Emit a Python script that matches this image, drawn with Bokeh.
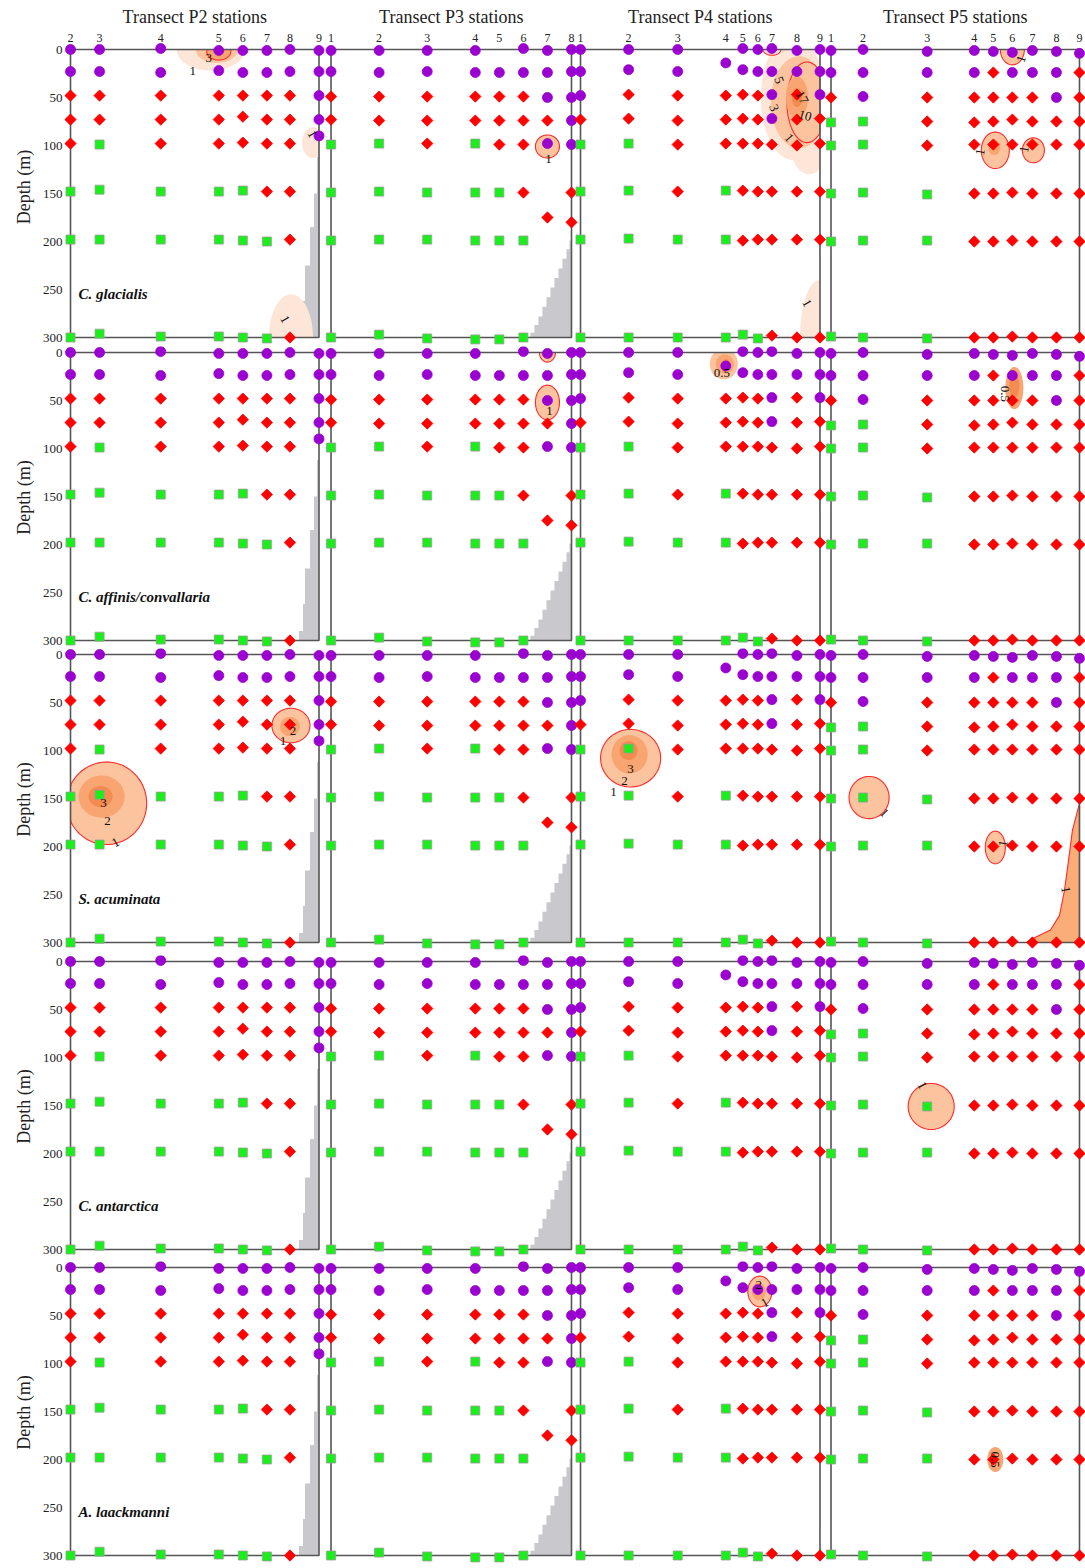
import numpy as np
from bokeh.plotting import figure
from bokeh.layouts import column
from bokeh.models import Range1d, FixedTicker, LinearAxis
from bokeh.core.properties import value
from bokeh.embed import file_html
from bokeh.resources import INLINE

# ---------------- data ----------------
species = ["C. glacialis", "C. affinis/convallaria", "S. acuminata", "C. antarctica", "A. laackmanni"]
transects = ["P2", "P3", "P4", "P5"]

# station names and relative positions along each transect
p2_names = ["2", "3", "4", "5", "6", "7", "8", "9"]
p2_dist = [0, 29, 90, 148, 172, 196, 219, 248]
p3_names = ["1", "2", "3", "4", "5", "6", "7", "8"]
p3_dist = [0, 48, 96, 144, 168, 192, 216, 240]
p4_names = ["1", "2", "3", "4", "5", "6", "7", "8", "9"]
p4_dist = [0, 48, 97, 145, 162, 177, 191, 216, 239]
p5_names = ["1", "2", "3", "4", "5", "6", "7", "8", "9"]
p5_dist = [0, 32, 96, 143, 162, 181, 201, 225, 248]

# samples: (depth m, water type)  S = surface (purple), I = intermediate (red), D = deep (green)
p2_samples = {
    "2": [(0, "S"), (23, "S"), (48, "I"), (73, "I"), (98, "I"), (148, "D"), (198, "D"), (300, "D")],
    "3": [(0, "S"), (23, "S"), (48, "I"), (73, "I"), (99, "D"), (146, "D"), (198, "D"), (296, "D")],
    "4": [(-1, "S"), (24, "S"), (48, "I"), (73, "I"), (98, "I"), (148, "D"), (198, "D"), (299, "D")],
    "5": [(1, "S"), (22, "S"), (48, "I"), (73, "I"), (98, "I"), (148, "D"), (198, "D"), (299, "D")],
    "6": [(1, "S"), (24, "S"), (48, "I"), (70, "I"), (97, "I"), (147, "D"), (199, "D"), (300, "D")],
    "7": [(1, "S"), (24, "S"), (48, "I"), (73, "I"), (98, "I"), (148, "I"), (200, "D"), (301, "D")],
    "8": [(0, "S"), (23, "S"), (48, "I"), (73, "I"), (98, "I"), (148, "I"), (198, "I"), (300, "I")],
    "9": [(1, "S"), (23, "S"), (48, "S"), (73, "S"), (90, "S")],
}
p3_samples = {
    "1": [(1, "S"), (23, "S"), (49, "I"), (73, "I"), (99, "D"), (149, "D"), (199, "D"), (300, "D")],
    "2": [(1, "S"), (24, "S"), (49, "I"), (74, "I"), (98, "D"), (148, "D"), (198, "D"), (297, "D")],
    "3": [(1, "S"), (23, "S"), (49, "I"), (74, "I"), (98, "I"), (149, "D"), (198, "D"), (301, "D")],
    "4": [(1, "S"), (24, "S"), (49, "I"), (74, "I"), (98, "D"), (149, "D"), (199, "D"), (302, "D")],
    "5": [(24, "S"), (49, "I"), (74, "I"), (99, "I"), (149, "D"), (199, "D"), (302, "D")],
    "6": [(-1, "S"), (24, "S"), (49, "I"), (74, "I"), (99, "I"), (149, "I"), (199, "D"), (300, "D")],
    "7": [(1, "S"), (24, "S"), (50, "S"), (74, "I"), (98, "S"), (175, "I")],
    "8": [(0, "S"), (23, "S"), (50, "S"), (74, "S"), (99, "S"), (149, "I"), (180, "I")],
}
p4_samples = {
    "1": [(0, "S"), (23, "S"), (48, "S"), (73, "I"), (99, "D"), (148, "D"), (198, "D"), (300, "D")],
    "2": [(0, "S"), (21, "S"), (47, "I"), (72, "I"), (98, "D"), (147, "D"), (197, "D"), (300, "D")],
    "3": [(0, "S"), (23, "S"), (48, "I"), (74, "I"), (99, "I"), (148, "I"), (198, "D"), (300, "D")],
    "4": [(14, "S"), (48, "I"), (73, "I"), (98, "I"), (147, "D"), (198, "D"), (300, "D")],
    "5": [(-1, "S"), (21, "S"), (47, "I"), (72, "I"), (98, "I"), (147, "I"), (199, "I"), (297, "D")],
    "6": [(0, "S"), (23, "S"), (48, "I"), (73, "I"), (98, "I"), (148, "I"), (198, "I"), (301, "D")],
    "7": [(-1, "S"), (23, "S"), (47, "S"), (72, "S"), (99, "I"), (148, "I"), (198, "I"), (298, "I")],
    "8": [(1, "S"), (23, "S"), (47, "I"), (73, "I"), (100, "I"), (148, "I"), (198, "I"), (300, "I")],
    "9": [(0, "S"), (23, "S"), (47, "S"), (72, "I"), (98, "I"), (148, "I"), (198, "I"), (300, "I")],
}
p5_samples = {
    "1": [(1, "S"), (24, "S"), (50, "I"), (76, "D"), (100, "D"), (150, "D"), (200, "D"), (299, "D")],
    "2": [(0, "S"), (24, "S"), (49, "S"), (75, "D"), (99, "D"), (149, "D"), (199, "D"), (300, "D")],
    "3": [(2, "S"), (24, "S"), (50, "I"), (75, "I"), (100, "I"), (151, "D"), (199, "D"), (301, "D")],
    "4": [(1, "S"), (24, "S"), (50, "I"), (76, "I"), (99, "I"), (150, "I"), (200, "I"), (300, "I")],
    "5": [(2, "S"), (24, "I"), (50, "I"), (75, "I"), (99, "I"), (150, "I"), (200, "I"), (300, "I")],
    "6": [(3, "S"), (24, "S"), (50, "I"), (73, "I"), (99, "I"), (149, "I"), (199, "I"), (299, "I")],
    "7": [(1, "S"), (24, "S"), (50, "I"), (75, "I"), (99, "I"), (150, "I"), (200, "I"), (300, "I")],
    "8": [(2, "S"), (24, "S"), (50, "S"), (75, "I"), (99, "I"), (150, "I"), (200, "I"), (300, "I")],
    "9": [(4, "S"), (24, "I"), (50, "I"), (75, "I"), (99, "I"), (150, "I"), (200, "I"), (300, "I")],
}

# sea-floor profiles (distance, depth) of the shallow transects
p2_bottom_dist = [248, 246, 246, 243, 243, 239, 239, 234, 234, 232, 232, 228, 228, 248]
p2_bottom_depth = [112, 112, 150, 150, 185, 185, 225, 225, 262, 262, 290, 290, 300, 300]
p3_bottom_dist = [240, 238, 238, 235, 235, 231, 231, 227, 227, 223, 223, 219, 219, 215, 215, 211, 211, 207, 207, 203, 203, 199, 199, 240]
p3_bottom_depth = [199, 199, 208, 208, 218, 218, 228, 228, 238, 238, 248, 248, 258, 258, 268, 268, 278, 278, 287, 287, 295, 295, 300, 300]

# abundance contours: (species idx, transect, centre dist, centre depth, half width, half depth, shade, red outline)
contours = [
    (0, "P2", 140, 0, 34, 22, 0, False),
    (0, "P2", 146, 0, 21, 14, 1, False),
    (0, "P2", 148, 2, 12, 9, 2, True),
    (0, "P2", 242, 97, 11, 16, 0, False),
    (0, "P2", 220, 300, 22, 45, 0, False),
    (0, "P3", 216, 101, 12, 12, 1, True),
    (0, "P4", 212, 50, 32, 65, 0, False),
    (0, "P4", 228, 100, 18, 30, 0, False),
    (0, "P4", 239, 300, 20, 60, 0, False),
    (0, "P4", 191, 0, 9, 6, 0, True),
    (0, "P4", 218, 55, 28, 48, 1, False),
    (0, "P4", 226, 55, 20, 42, 1, True),
    (0, "P4", 216, 50, 11, 22, 2, False),
    (0, "P4", 216, 50, 5, 10, 3, False),
    (0, "P5", 181, 0, 12, 16, 1, True),
    (0, "P5", 164, 105, 14, 19, 1, True),
    (0, "P5", 163, 102, 6, 8, 2, False),
    (0, "P5", 202, 105, 11, 13, 1, True),
    (1, "P3", 216, 0, 8, 10, 1, True),
    (1, "P3", 216, 52, 12, 18, 1, True),
    (1, "P4", 143, 12, 14, 16, 1, False),
    (1, "P4", 144, 12, 9, 10, 2, False),
    (1, "P4", 145, 12, 4, 5, 3, False),
    (1, "P5", 183, 37, 9, 22, 2, False),
    (1, "P5", 183, 35, 5, 12, 3, False),
    (2, "P2", 36, 155, 40, 43, 1, True),
    (2, "P2", 31, 148, 23, 22, 2, False),
    (2, "P2", 30, 148, 12, 11, 3, False),
    (2, "P2", 220, 74, 19, 18, 1, True),
    (2, "P2", 219, 75, 10, 10, 2, False),
    (2, "P4", 50, 108, 30, 30, 1, True),
    (2, "P4", 49, 104, 18, 20, 2, False),
    (2, "P4", 48, 100, 9, 10, 3, False),
    (2, "P5", 38, 149, 20, 22, 1, True),
    (2, "P5", 164, 201, 10, 17, 1, True),
    (3, "P5", 100, 151, 23, 24, 1, True),
    (4, "P4", 179, 25, 12, 16, 1, True),
    (4, "P4", 178, 25, 7, 9, 2, False),
    (4, "P5", 164, 200, 8, 13, 2, False),
]
# S. acuminata contour along the P5 sea floor (distance, depth)
p5_tail_dist = [248, 241, 237, 233, 228, 219, 201, 195, 248]
p5_tail_depth = [155, 183, 215, 246, 272, 287, 296, 300, 300]

# contour labels: (species idx, transect, dist, depth, text, angle deg)
contour_labels = [
    (0, "P2", 122, 22, "1", 0), (0, "P2", 138, 9, "3", 0), (0, "P2", 241, 88, "1", -60),
    (0, "P2", 214, 281, "1", -60), (0, "P3", 217, 114, "1", 0),
    (0, "P4", 198, 32, "5", -70), (0, "P4", 221, 50, "17", -60), (0, "P4", 224, 69, "10", -15),
    (0, "P4", 193, 61, "3", -70), (0, "P4", 208, 92, "1", -50), (0, "P4", 226, 264, "1", -60),
    (0, "P5", 190, 10, "1", 70), (0, "P5", 149, 107, "1", 80), (0, "P5", 193, 104, "1", 80),
    (1, "P3", 218, 61, "1", 0), (1, "P4", 141, 21, "0.5", 0), (1, "P5", 174, 43, "0.5", -90),
    (2, "P2", 33, 155, "3", 0), (2, "P2", 37, 173, "2", 0), (2, "P2", 45, 196, "1", 30),
    (2, "P2", 212, 90, "1", 0), (2, "P2", 222, 80, "2", 0),
    (2, "P4", 50, 119, "3", 0), (2, "P4", 44, 132, "2", 0), (2, "P4", 33, 143, "1", 0),
    (2, "P5", 53, 165, "1", -45), (2, "P5", 172, 197, "1", 80), (2, "P5", 234, 245, "1", -80),
    (3, "P5", 91, 129, "1", -60),
    (4, "P4", 178, 18, "2", 0), (4, "P4", 184, 37, "1", 30), (4, "P5", 164, 200, "0.5", -90),
]

# ---------------- styling / layout ----------------
SERIF = "Liberation Serif"
panel_left = {"P2": 0, "P3": 260, "P4": 509, "P5": 759}
panel_width = {"P2": 248, "P3": 240, "P4": 239, "P5": 248}
names = {"P2": p2_names, "P3": p3_names, "P4": p4_names, "P5": p5_names}
dists = {"P2": p2_dist, "P3": p3_dist, "P4": p4_dist, "P5": p5_dist}
samples = {"P2": p2_samples, "P3": p3_samples, "P4": p4_samples, "P5": p5_samples}
shade_col = ["#fde5d7", "#fbc39e", "#f9a572", "#f48b50", "#ee7236"]
marker_style = {
    "S": dict(marker="circle", size=10, fill_color="#9a00cf", line_color="#9a00cf", angle=0.0),
    "I": dict(marker="square", size=8, fill_color="#ff0000", line_color="#ff0000", angle=np.pi / 4),
    "D": dict(marker="square", size=9, fill_color="#19f019", line_color="#9a9a9a", angle=0.0),
}
PX_PER_M = 0.96
row_top = [28, 1, 0, 5, 4]          # border above each row
row_bottom = [0, 0, 0, 0, 5]
pad_top_px = [21, 6, 6, 6, 6]        # frame space above depth 0
PAD_BOTTOM_PX = 8
XPAD = 6


def ellipse_poly(tr, cx, cy, rx, ry):
    t = np.linspace(0, 2 * np.pi, 72)
    xs = np.clip(cx + rx * np.cos(t), 0, panel_width[tr]) + panel_left[tr]
    ys = np.clip(cy + ry * np.sin(t), 0, 300)
    return list(xs), list(ys)


figs = []
for r, sp in enumerate(species):
    frame_h = pad_top_px[r] + int(round(300 * PX_PER_M)) + PAD_BOTTOM_PX
    p = figure(width=1085, height=frame_h + row_top[r] + row_bottom[r], output_backend="svg",
               toolbar_location=None,
               x_range=Range1d(-XPAD, panel_left["P5"] + panel_width["P5"] + XPAD),
               y_range=Range1d(300 + PAD_BOTTOM_PX / PX_PER_M, -pad_top_px[r] / PX_PER_M),
               min_border_left=64, min_border_right=0, min_border_top=row_top[r],
               min_border_bottom=row_bottom[r], x_axis_location=None)
    p.outline_line_color = None
    p.xgrid.visible = False
    p.ygrid.visible = False
    ax = p.yaxis[0]
    ax.ticker = FixedTicker(ticks=[0, 50, 100, 150, 200, 250, 300])
    ax.axis_line_color = None
    ax.major_tick_line_color = None
    ax.minor_tick_line_color = None
    ax.major_tick_out = 0
    ax.major_tick_in = 0
    ax.minor_tick_out = 0
    ax.minor_tick_in = 0
    ax.major_label_text_font = SERIF
    ax.major_label_text_font_size = "13px"
    ax.major_label_text_color = "#222222"
    ax.major_label_standoff = 2
    ax.axis_label = "Depth (m)"
    ax.axis_label_text_font = SERIF
    ax.axis_label_text_font_size = "18px"
    ax.axis_label_text_font_style = "normal"
    ax.axis_label_text_color = "#222222"
    ax.axis_label_standoff = 6

    # sea floor
    p.patch([panel_left["P2"] + d for d in p2_bottom_dist], p2_bottom_depth, fill_color="#c9c9cd", line_color=None)
    p.patch([panel_left["P3"] + d for d in p3_bottom_dist], p3_bottom_depth, fill_color="#c9c9cd", line_color=None)

    # contours
    for (si, tr, cx, cy, rx, ry, sh, red) in contours:
        if si != r:
            continue
        xs, ys = ellipse_poly(tr, cx, cy, rx, ry)
        p.patch(xs, ys, fill_color=shade_col[sh], line_color="#ff2a2a" if red else None,
                line_width=1.1)
    if r == 2:
        p.patch([panel_left["P5"] + d for d in p5_tail_dist], p5_tail_depth, fill_color="#fbad78",
                line_color="#ff2a2a", line_width=1.1)

    # panel boxes
    for tr in transects:
        p.quad(left=panel_left[tr], right=panel_left[tr] + panel_width[tr], top=0, bottom=300,
               fill_color=None, line_color="#555555", line_width=1.6)

    # sample markers
    for tr in transects:
        for nm, d in zip(names[tr], dists[tr]):
            for depth, kind in samples[tr][nm]:
                st = marker_style[kind]
                p.scatter(x=[panel_left[tr] + d], y=[depth], marker=st["marker"], size=st["size"],
                          angle=st["angle"], fill_color=st["fill_color"], line_color=st["line_color"],
                          line_width=0.8)

    # contour labels
    for (si, tr, x, y, txt, ang) in contour_labels:
        if si != r:
            continue
        p.text(x=[panel_left[tr] + x], y=[y], text=[txt], angle=ang, angle_units="deg",
               text_font=value(SERIF), text_font_size="13px", text_color="#111111",
               text_align="center", text_baseline="middle")

    # species label
    p.text(x=[8], y=[255], text=[sp], text_font=value(SERIF), text_font_size="15px",
           text_font_style="bold italic", text_color="#111111", text_align="left", text_baseline="middle")

    if r == 0:
        # station numbers above the first row of panels
        sx, st_txt = [], []
        for tr in transects:
            for nm, d in zip(names[tr], dists[tr]):
                sx.append(panel_left[tr] + d)
                st_txt.append(nm)
        p.text(x=sx, y=[-12.5] * len(sx), text=st_txt, text_font=value(SERIF), text_font_size="12px",
               text_color="#222222", text_align="center", text_baseline="middle")
        cen = [float(panel_left[tr] + panel_width[tr] / 2) for tr in transects]
        title_ax = LinearAxis(ticker=FixedTicker(ticks=cen),
                              major_label_overrides={c: "Transect %s stations" % tr for c, tr in zip(cen, transects)})
        title_ax.axis_line_color = None
        title_ax.major_tick_line_color = None
        title_ax.minor_tick_line_color = None
        title_ax.major_tick_out = 0
        title_ax.major_tick_in = 0
        title_ax.major_label_standoff = 2
        title_ax.major_label_text_font = SERIF
        title_ax.major_label_text_font_size = "18px"
        title_ax.major_label_text_color = "#222222"
        p.add_layout(title_ax, "above")
    figs.append(p)

layout = column(*figs, spacing=0)
open("out.html", "w").write(file_html(layout, INLINE))
